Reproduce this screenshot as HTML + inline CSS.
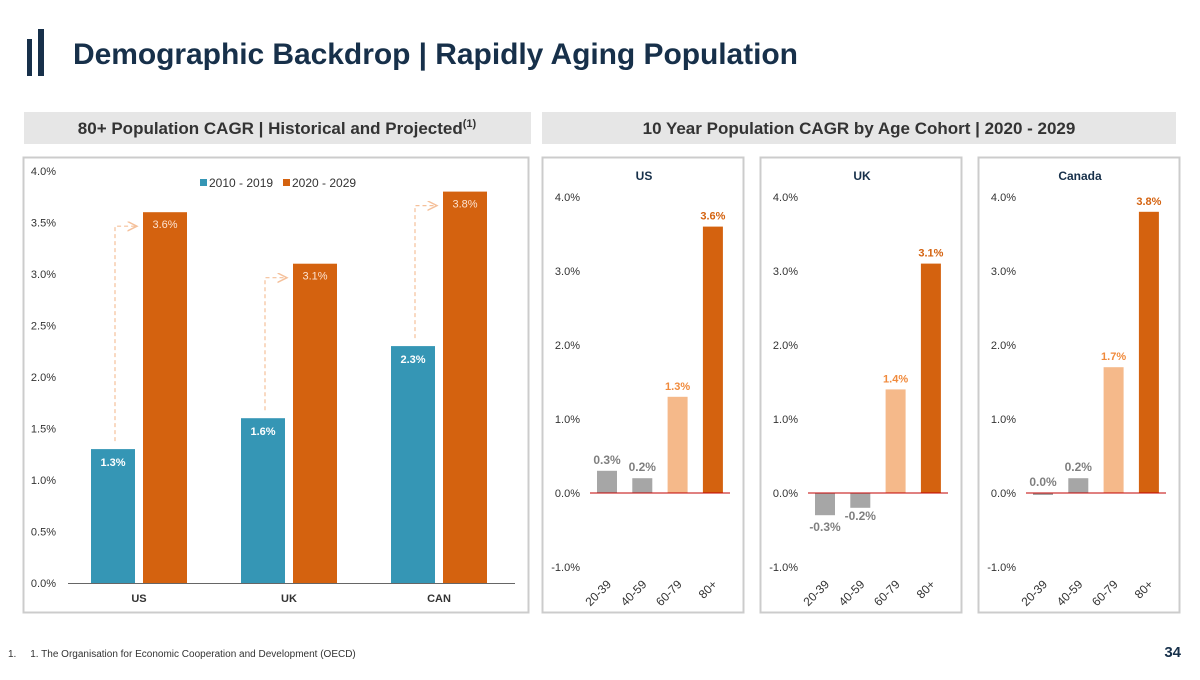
<!DOCTYPE html>
<html><head><meta charset="utf-8">
<style>
body{margin:0;width:1200px;height:675px;background:#fff;overflow:hidden;font-family:"Liberation Sans",Arial,sans-serif;}
svg text{font-family:"Liberation Sans",Arial,sans-serif;}
</style></head>
<body>
<svg id="s" width="1200" height="675" xmlns="http://www.w3.org/2000/svg">
<rect x="27" y="39" width="5" height="37" fill="#17304a"/>
<rect x="38" y="29" width="6" height="47" fill="#17304a"/>
<text x="73" y="64" font-size="30" font-weight="bold" fill="#17304a" textLength="725">Demographic Backdrop | Rapidly Aging Population</text>
<rect x="24" y="112" width="507" height="32" fill="#e6e6e6"/>
<text x="277" y="134" font-size="17" font-weight="bold" fill="#333" text-anchor="middle">80+ Population CAGR | Historical and Projected<tspan font-size="11" dy="-7">(1)</tspan></text>
<rect x="542" y="112" width="634" height="32" fill="#e6e6e6"/>
<text x="859" y="134" font-size="17" font-weight="bold" fill="#333" text-anchor="middle">10 Year Population CAGR by Age Cohort | 2020 - 2029</text>
<rect x="23.5" y="157.5" width="505" height="455" fill="none" stroke="#ccc" stroke-width="2"/>
<g id="left"></g>
<g id="right"></g>
<text x="8" y="657" font-size="10" fill="#333">1.&#160;&#160;&#160;&#160;&#160;1. The Organisation for Economic Cooperation and Development (OECD)</text>
<text x="1181" y="657" font-size="15" font-weight="bold" fill="#17304a" text-anchor="end">34</text>
</svg>
<script>
const NS="http://www.w3.org/2000/svg";
const leftCats=["US","UK","CAN"];
const hist=[1.3,1.6,2.3];
const proj=[3.6,3.1,3.8];
const leftTicks=[0,0.5,1,1.5,2,2.5,3,3.5,4];
const cohorts=["20-39","40-59","60-79","80+"];
const countries=["US","UK","Canada"];
const usVals=[0.3,0.2,1.3,3.6];
const ukVals=[-0.3,-0.2,1.4,3.1];
const caVals=[0.0,0.2,1.7,3.8];
const rightTicks=[-1,0,1,2,3,4];
function mk(p,t,a,txt){const e=document.createElementNS(NS,t);for(const k in a)e.setAttribute(k,a[k]);if(txt!==undefined)e.textContent=txt;p.appendChild(e);return e;}
const L=document.getElementById('left');
const ly=v=>583-v*103;
const lx=i=>139+i*150;
leftTicks.forEach(t=>{const e=mk(L,'text',{x:56,y:ly(t)+4,'font-size':11,fill:'#333','text-anchor':'end'},t.toFixed(1)+'%');

});
mk(L,'defs',{}).innerHTML='<marker id="ah" markerWidth="10" markerHeight="10" refX="8" refY="4" orient="auto"><path d="M0,0 L8,4 L0,8" fill="none" stroke="#f5c09a" stroke-width="1.2"/></marker>';
leftCats.forEach((c,i)=>{
 const cx=lx(i);
 const b=mk(L,'rect',{x:cx-48,y:ly(hist[i]),width:44,height:ly(0)-ly(hist[i]),fill:'#3596b5'});
 
 
 const o=mk(L,'rect',{x:cx+4,y:ly(proj[i]),width:44,height:ly(0)-ly(proj[i]),fill:'#d4620f'});
 
 
 const t1=mk(L,'text',{x:cx-26,y:ly(hist[i])+17,'font-size':11,'font-weight':'bold',fill:'#fff','text-anchor':'middle'},hist[i].toFixed(1)+'%');
 
 
 const t2=mk(L,'text',{x:cx+26,y:ly(proj[i])+16,'font-size':11,fill:'#fde3d0','text-anchor':'middle'},proj[i].toFixed(1)+'%');
 
 
 const ax=cx-24, ay=ly(proj[i])+14;
 const p=mk(L,'path',{d:`M${ax},${ly(hist[i])-8} V${ay} H${cx-2}`,fill:'none',stroke:'#f5c09a','stroke-width':1.2,'stroke-dasharray':'4,3','marker-end':'url(#ah)'});
 
 
 const cl=mk(L,'text',{x:cx,y:602,'font-size':11,'font-weight':'bold',fill:'#333','text-anchor':'middle'},c);
 
 
});
mk(L,'line',{x1:68,x2:515,y1:583.5,y2:583.5,stroke:'#666','stroke-width':1});
[['2010 - 2019','#3596b5',200],['2020 - 2029','#d4620f',283]].forEach(([t,c,x])=>{
 const g=mk(L,'g',{});
 
 
 mk(g,'rect',{x:x,y:179,width:7,height:7,fill:c});
 mk(g,'text',{x:x+9,y:187,'font-size':12,fill:'#333'},t);
});
const R=document.getElementById('right');
const ry=v=>493-v*74;
const allVals=[usVals,ukVals,caVals];
const cols=['#a6a6a6','#a6a6a6','#f5b98a','#d4620f'];
const lblCols=['#7f7f7f','#7f7f7f','#f08a3c','#d4620f'];
countries.forEach((cn,k)=>{
 const off=k*218;
 const g=mk(R,'g',{});
 
 
 mk(g,'rect',{x:542.5+off,y:157.5,width:201,height:455,fill:'none',stroke:'#ccc','stroke-width':2});
 mk(g,'text',{x:644+off,y:180,'font-size':12,'font-weight':'bold',fill:'#17304a','text-anchor':'middle'},cn);
 rightTicks.forEach(t=>{const e=mk(g,'text',{x:580+off,y:ry(t)+4,'font-size':11,fill:'#333','text-anchor':'end'},t.toFixed(1)+'%');
 
 });
 const vals=allVals[k];
 cohorts.forEach((c,i)=>{
  const x=597+off+i*35.3, v=vals[i];
  const y0=Math.min(ry(v),ry(0)), h=Math.max(Math.abs(ry(v)-ry(0)),2);
  const b=mk(g,'rect',{x:x,y:y0,width:20,height:h,fill:cols[i]});
  
  
  const ty=v>=0?ry(v)-7:ry(v)+12+(i==0?4:0);
  const tl=mk(g,'text',{x:x+10,y:ty,'font-size':i>=2?11:12,'font-weight':i>=2?'bold':'600',fill:lblCols[i],'text-anchor':'middle'},v.toFixed(1)+'%');
  
  
  const cl=mk(g,'text',{x:x+15,y:585,'font-size':12,fill:'#333','text-anchor':'end',transform:`rotate(-45 ${x+15} 585)`},c);
  
  
 });
 mk(g,'line',{x1:590+off,x2:730+off,y1:ry(0),y2:ry(0),stroke:'#c00000','stroke-width':1});
});
</script>
</body></html>
